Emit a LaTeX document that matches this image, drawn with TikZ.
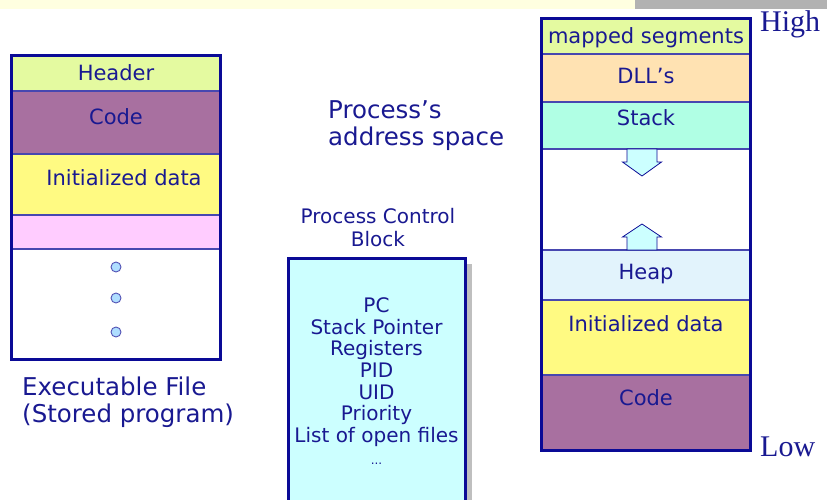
\documentclass[tikz,border=0pt]{standalone}
\usepackage{fontspec}
\setmainfont{DejaVu Sans}
\newfontfamily\hlfont{Liberation Serif}
\usetikzlibrary{positioning, shadows}
\definecolor{ink}{RGB}{25,25,145}
\definecolor{rimblue}{RGB}{10,10,150}
\definecolor{hdrfill}{RGB}{228,250,160}
\definecolor{codefill}{RGB}{168,112,160}
\definecolor{datafill}{RGB}{255,250,130}
\definecolor{bssfill}{RGB}{255,204,255}
\definecolor{dllfill}{RGB}{255,226,178}
\definecolor{stackfill}{RGB}{176,255,228}
\definecolor{heapfill}{RGB}{226,243,252}
\definecolor{pcbfill}{RGB}{204,255,255}
\definecolor{dotfill}{RGB}{175,222,255}
\definecolor{bandfill}{RGB}{255,255,224}
\definecolor{bandgray}{RGB}{178,178,178}

\begin{document}
\begin{tikzpicture}[x=1pt, y=-1pt,
  every node/.style={inner sep=0pt, text=ink, font=\fontsize{21}{25}\selectfont},
  seg/.style={draw=rimblue!75, line width=1pt, minimum width=208pt, anchor=north},
  lift/.style={text height=15pt, text depth=#1},
  rim/.style={draw=rimblue, line width=3pt},
  capt/.style={font=\fontsize{24.5}{27}\selectfont, align=left, anchor=west},
  hl/.style={font=\hlfont\fontsize{30}{30}\selectfont, anchor=west},
  dot/.style={circle, draw=rimblue!70, fill=dotfill, line width=0.9pt, minimum size=10pt},
  growarrow/.style={draw=rimblue, fill=pcbfill, line width=0.8pt, line join=miter},
  pcb/.style={draw=rimblue, line width=3pt, fill=pcbfill, minimum width=177pt,
    minimum height=245pt, anchor=north, align=center,
    font=\fontsize{20}{21.7}\selectfont,
    drop shadow={shadow xshift=7pt, shadow yshift=-5pt, fill=black!25, opacity=1}}]
\useasboundingbox (0,0) rectangle (827,499);
\fill[bandfill] (0,0) rectangle (635,9);
\fill[bandgray] (635,0) rectangle (827,9);

% executable file
\node[seg, fill=hdrfill, minimum height=35pt, lift=-5pt] (lhdr) at (116,55) {Header};
\node[seg, fill=codefill, minimum height=62pt, lift=12pt, below=0pt of lhdr] (lcode) {Code};
\node[seg, fill=datafill, minimum height=60pt, lift=13pt, below=0pt of lcode] (ldata) {\hspace{16pt}Initialized data};
\node[seg, fill=bssfill, minimum height=33pt, below=0pt of ldata] (lbss) {};
\node[seg, fill=white, minimum height=109pt, below=0pt of lbss] (lfree) {};
\draw[rim] (lhdr.north west) rectangle (lfree.south east);
\foreach \y [count=\i] in {267,298,332}
  \node[dot] (ldot\i) at (116,\y) {};
\node[capt] (exe) at (22,402) {Executable File\\(Stored program)};

% process address space
\node[seg, fill=hdrfill, minimum height=35pt, lift=-1pt] (rmap) at (646,18) {mapped segments};
\node[seg, fill=dllfill, minimum height=47pt, lift=4pt, below=0pt of rmap] (rdll) {DLL’s};
\node[seg, fill=stackfill, minimum height=46pt, lift=15pt, below=0pt of rdll] (rstack) {Stack};
\node[seg, fill=white, minimum height=100pt, below=0pt of rstack] (rfree) {};
\node[seg, fill=heapfill, minimum height=49pt, lift=7pt, below=0pt of rfree] (rheap) {Heap};
\node[seg, fill=datafill, minimum height=74pt, lift=27pt, below=0pt of rheap] (rdata) {Initialized data};
\node[seg, fill=codefill, minimum height=74pt, lift=30pt, below=0pt of rdata] (rcode) {Code};
\draw[rim] (rmap.north west) rectangle (rcode.south east);
\coordinate (down) at ([xshift=-4pt]rstack.south);
\coordinate (up) at ([xshift=-4pt]rheap.north);
\draw[growarrow] (down) ++(-15,0) -- ++(0,13) -- ++(-4.5,0) -- ++(19.5,14)
  -- ++(19.5,-14) -- ++(-4.5,0) -- ++(0,-13) -- cycle;
\draw[growarrow] (up) ++(-15,0) -- ++(0,-13) -- ++(-4.5,0) -- ++(19.5,-13)
  -- ++(19.5,13) -- ++(-4.5,0) -- ++(0,13) -- cycle;
\node[hl] (high) at (760,24) {High};
\node[hl] (low) at (760,447) {Low};
\node[capt] (space) at (328,126) {Process’s\\address space};

% process control block
\node[align=center, font=\fontsize{20}{23}\selectfont] (pcbtitle) at (378,228) {Process Control\\Block};
\node[pcb] (pcb) at (376.5,257) {PC\\Stack Pointer\\Registers\\PID\\UID\\Priority\\List of open files\\{\fontsize{12}{12}\selectfont ...}};
\end{tikzpicture}
\end{document}
